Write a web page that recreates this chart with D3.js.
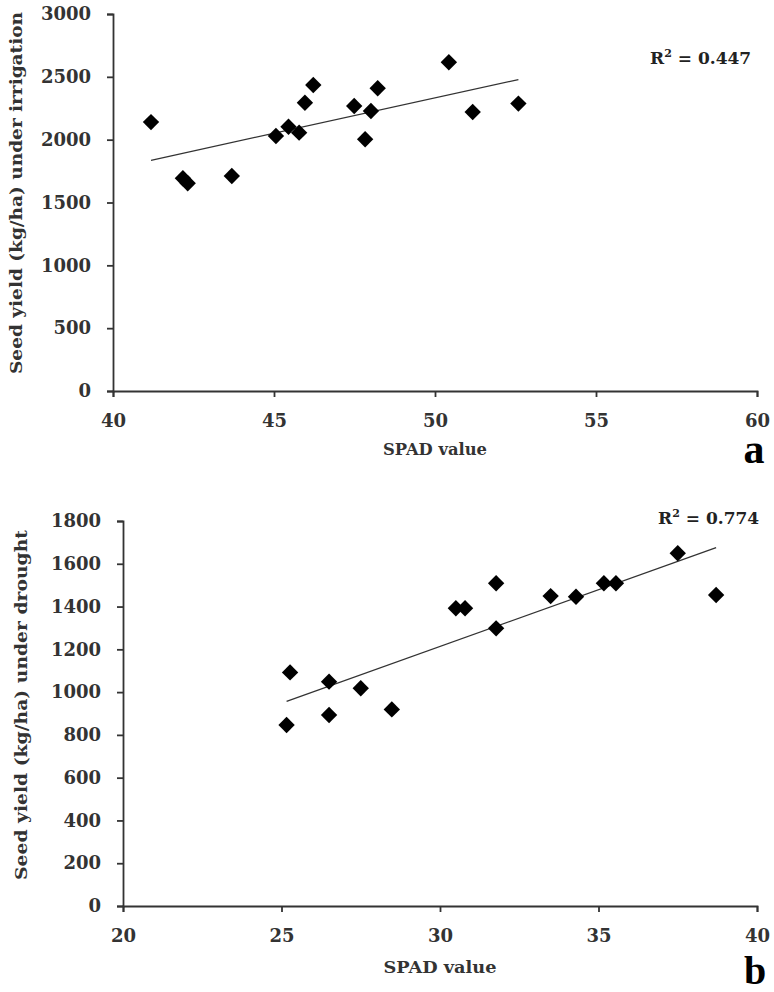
<!DOCTYPE html>
<html><head><meta charset="utf-8">
<script src="https://cdn.jsdelivr.net/npm/d3@7"></script>
<style>body{margin:0;background:#fff}svg{display:block}</style>
</head><body>
<svg id="c" width="774" height="992"></svg>
<script>
// Panel a: irrigation
const spadA = [41.18, 42.17, 42.32, 43.69, 45.06, 45.45, 45.78, 45.96, 46.22, 47.49, 47.83, 48.01, 48.22, 50.43, 51.17, 52.59];
const yieldA = [2140, 1693, 1653, 1711, 2029, 2103, 2056, 2294, 2435, 2268, 2003, 2228, 2409, 2616, 2220, 2287];
const xTicksA = [40, 45, 50, 55, 60];
const yTicksA = [0, 500, 1000, 1500, 2000, 2500, 3000];
// Panel b: drought
const spadB = [25.27, 25.16, 26.50, 26.50, 27.50, 28.48, 30.50, 30.79, 31.77, 31.77, 33.49, 34.29, 35.17, 35.55, 37.50, 38.71];
const yieldB = [1092, 846, 1049, 893, 1018, 919, 1392, 1392, 1509, 1298, 1449, 1446, 1509, 1509, 1649, 1454];
const xTicksB = [20, 25, 30, 35, 40];
const yTicksB = [0, 200, 400, 600, 800, 1000, 1200, 1400, 1600, 1800];

const svg = d3.select("#c");
const FONT = "'DejaVu Serif', serif";

function linreg(xs, ys){
  const n = xs.length, mx = d3.mean(xs), my = d3.mean(ys);
  let sxy = 0, sxx = 0;
  for (let i=0;i<n;i++){ sxy += (xs[i]-mx)*(ys[i]-my); sxx += (xs[i]-mx)**2; }
  const b = sxy/sxx; return {b, a: my - b*mx};
}

function panel(cfg){
  const g = svg.append("g");
  const x = d3.scaleLinear().domain(cfg.xDomain).range(cfg.xRange);
  const y = d3.scaleLinear().domain(cfg.yDomain).range(cfg.yRange);

  const xAxis = g.append("g").attr("transform", `translate(0,${cfg.yRange[0]})`)
    .call(d3.axisBottom(x).tickValues(cfg.xTicks).tickSize(6).tickPadding(17).tickFormat(d3.format("d")));
  const yAxis = g.append("g").attr("transform", `translate(${cfg.xRange[0]},0)`)
    .call(d3.axisLeft(y).tickValues(cfg.yTicks).tickSize(6).tickPadding(cfg.yPad).tickFormat(d3.format("d")));
  [xAxis, yAxis].forEach(a => {
    a.select(".domain").attr("stroke", "#333").attr("stroke-width", 1.8);
    a.selectAll(".tick line").attr("stroke", "#333").attr("stroke-width", 1.8);
    a.selectAll(".tick text").attr("fill", "#333").attr("font-family", FONT)
      .attr("font-weight", "bold").attr("font-size", 18);
  });

  // trend line
  const r = linreg(cfg.xs, cfg.ys);
  const x0 = d3.min(cfg.xs), x1 = d3.max(cfg.xs);
  g.append("line")
    .attr("x1", x(x0)).attr("y1", y(r.a + r.b*x0))
    .attr("x2", x(x1)).attr("y2", y(r.a + r.b*x1))
    .attr("stroke", "#333").attr("stroke-width", 1.3);

  // points
  const sym = d3.symbol().type(d3.symbolSquare).size(134);
  g.selectAll("path.pt").data(cfg.xs.map((v,i)=>[v, cfg.ys[i]])).join("path")
    .attr("class","pt").attr("d", sym)
    .attr("transform", d => `translate(${x(d[0])},${y(d[1])}) rotate(45)`)
    .attr("fill", "#000");

  // R2
  const t = g.append("text").attr("x", cfg.r2Pos[0]).attr("y", cfg.r2Pos[1])
    .attr("font-family", FONT).attr("font-size", 17).attr("fill", "#222").attr("font-weight", 600);
  t.append("tspan").text("R");
  t.append("tspan").text("2").attr("font-size", 11).attr("dy", -7);
  t.append("tspan").text(" = " + cfg.r2).attr("dy", 7);

  // axis titles
  g.append("text").attr("x", cfg.xTitlePos[0]).attr("y", cfg.xTitlePos[1])
    .attr("text-anchor", "middle").attr("font-family", FONT).attr("font-weight", "bold")
    .attr("font-size", 17).attr("fill", "#333").text("SPAD value")
    .attr("textLength", cfg.xTitleLen).attr("lengthAdjust", "spacingAndGlyphs");
  g.append("text").attr("transform", `translate(${cfg.yTitlePos[0]},${cfg.yTitlePos[1]}) rotate(-90)`)
    .attr("text-anchor", "middle").attr("font-family", FONT).attr("font-weight", "bold")
    .attr("font-size", 16.5).attr("fill", "#333").text(cfg.yTitle)
    .attr("textLength", cfg.yTitleLen).attr("lengthAdjust", "spacingAndGlyphs");

  // panel letter
  g.append("text").attr("x", cfg.letterPos[0]).attr("y", cfg.letterPos[1])
    .attr("text-anchor", "middle").attr("font-family", "'Liberation Serif', serif")
    .attr("font-weight", "bold").attr("font-size", cfg.letterSize).attr("fill", "#000").text(cfg.letter);
}

panel({
  xs: spadA, ys: yieldA, xDomain: [40, 60], xRange: [113, 757],
  yDomain: [0, 3000], yRange: [391, 14], xTicks: xTicksA, yTicks: yTicksA, yPad: 16,
  r2: "0.447", r2Pos: [650, 64],
  xTitlePos: [435, 455], xTitleLen: 104,
  yTitle: "Seed yield (kg/ha) under irrigation", yTitlePos: [22, 193], yTitleLen: 362,
  letter: "a", letterPos: [754, 463], letterSize: 42
});
panel({
  xs: spadB, ys: yieldB, xDomain: [20, 40], xRange: [123, 757],
  yDomain: [0, 1800], yRange: [906, 521], xTicks: xTicksB, yTicks: yTicksB, yPad: 16,
  r2: "0.774", r2Pos: [658, 524],
  xTitlePos: [440, 973], xTitleLen: 113,
  yTitle: "Seed yield (kg/ha) under drought", yTitlePos: [27, 705], yTitleLen: 350,
  letter: "b", letterPos: [755, 984], letterSize: 40
});
</script>
</body></html>
